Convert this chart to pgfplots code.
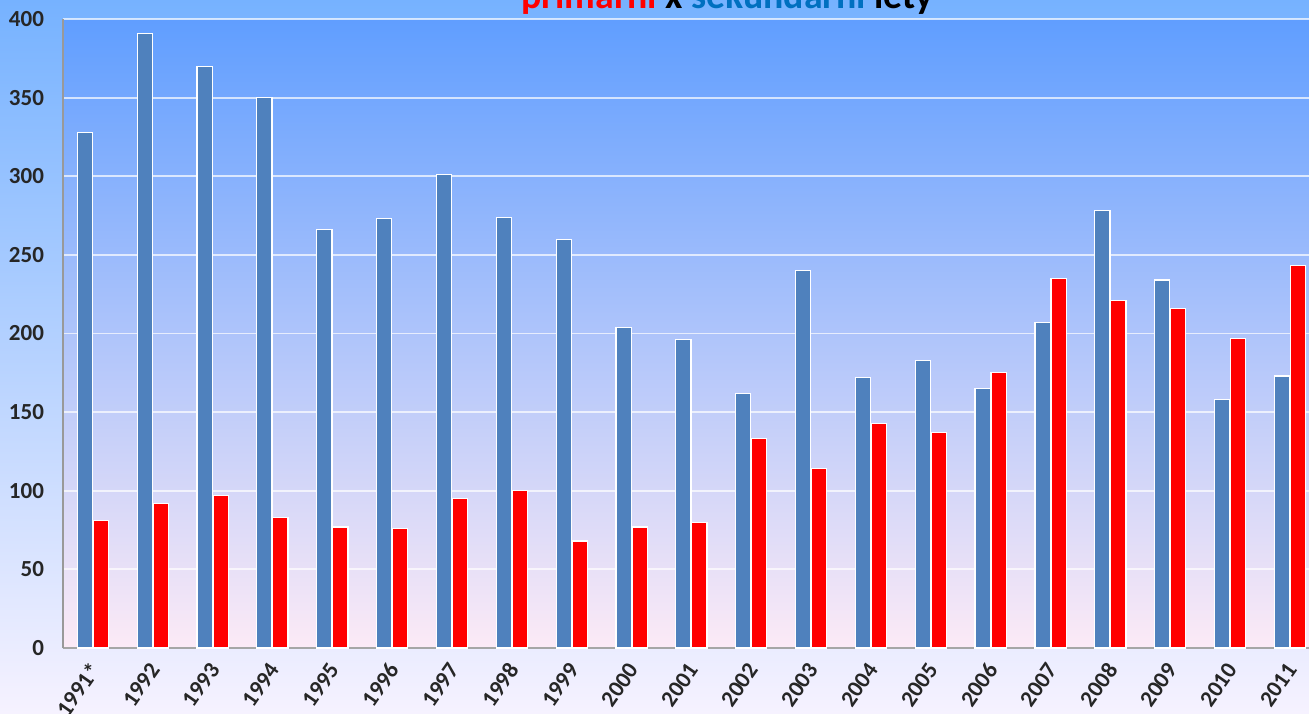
\documentclass[border=0pt]{standalone}
\usepackage{pgfplots}
\pgfplotsset{compat=1.18}
\usepackage{fontspec}
\setmainfont{Carlito}
\definecolor{barblue}{RGB}{79,129,189}
\definecolor{barred}{RGB}{255,0,0}
\definecolor{titleblue}{RGB}{0,112,192}
\definecolor{outtop}{RGB}{118,178,255}
\definecolor{outmid}{RGB}{170,214,252}
\definecolor{outbot}{RGB}{246,242,255}
\definecolor{intop}{RGB}{96,158,255}
\definecolor{inmid}{RGB}{142,194,250}
\definecolor{inbot}{RGB}{252,234,246}
\begin{document}
\begin{tikzpicture}[x=1pt,y=1pt]
\shade[top color=outtop, middle color=outmid, bottom color=outbot] (0,0) rectangle (654.5,356.5);
\useasboundingbox (0,0) rectangle (654.5,356.5);
\begin{axis}[
  at={(31.5pt,32.5pt)}, anchor=south west,
  scale only axis,
  width=628.4pt, height=314.5pt,
  xmin=-0.5, xmax=20.5, ymin=0, ymax=400,
  ybar, bar width=7.6pt,
  axis background/.style={shade, top color=intop, middle color=inmid, bottom color=inbot},
  axis x line*=bottom, axis y line*=left,
  x axis line style={draw=gray!70, line width=0.8pt},
  y axis line style={draw=gray!80, line width=0.6pt},
  ytick={0,50,...,400},
  ymajorgrids, grid style={white, opacity=0.7, line width=0.9pt},
  xtick=data,
  xticklabels={1991*,1992,1993,1994,1995,1996,1997,1998,1999,2000,2001,2002,2003,2004,2005,2006,2007,2008,2009,2010,2011},
  major tick length=0pt,
  /pgf/number format/assume math mode=true,
  ticklabel style={font=\bfseries\fontsize{11.5}{13}\selectfont, text=black!85},
  yticklabel style={xshift=-6pt},
  xticklabel style={xshift=3pt, yshift=-6pt, rotate=55, anchor=east},
  every axis plot/.append style={draw=white, line width=0.6pt},
  clip=false,
]
\addplot[fill=barblue, bar shift=-4pt] coordinates {
(0,328) (1,391) (2,370) (3,350) (4,266) (5,273) (6,301) (7,274) (8,260) (9,204) (10,196)
(11,162) (12,240) (13,172) (14,183) (15,165) (16,207) (17,278) (18,234) (19,158) (20,173)};
\addplot[fill=barred, bar shift=4pt] coordinates {
(0,81) (1,92) (2,97) (3,83) (4,77) (5,76) (6,95) (7,100) (8,68) (9,77) (10,80)
(11,133) (12,114) (13,143) (14,137) (15,175) (16,235) (17,221) (18,216) (19,197) (20,243)};
\end{axis}
\node[anchor=base, font=\bfseries\fontsize{18.9}{22}\selectfont, inner sep=0pt] at (363.75,352)
  {\textcolor{barred}{primární} x \textcolor{titleblue}{sekundární} lety};
\end{tikzpicture}
\end{document}
